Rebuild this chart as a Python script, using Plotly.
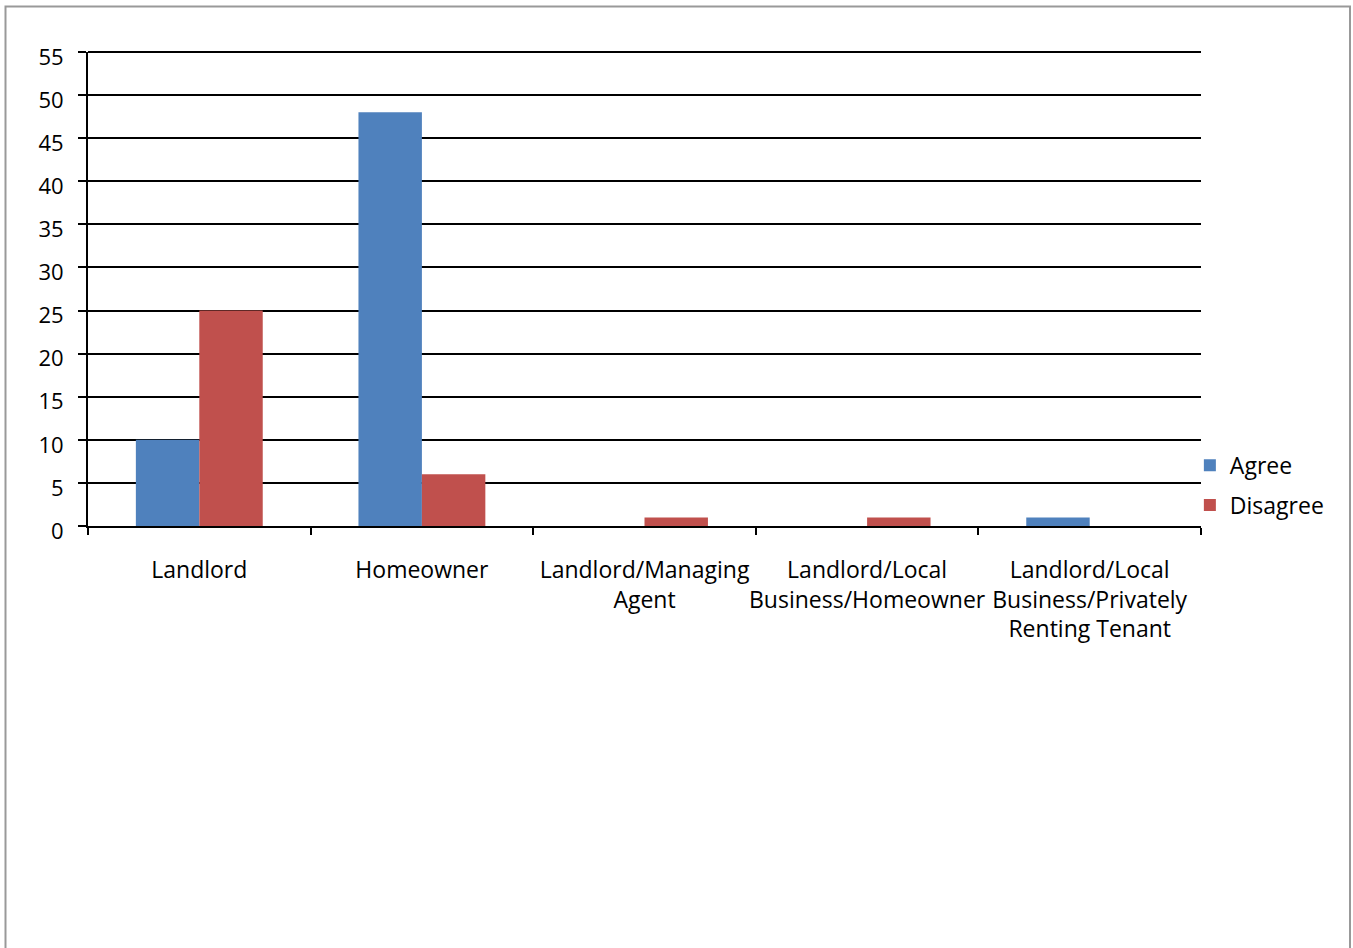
import plotly.graph_objects as go

categories = [
    "Landlord",
    "Homeowner",
    "Landlord/Managing<br>Agent",
    "Landlord/Local<br>Business/Homeowner",
    "Landlord/Local<br>Business/Privately<br>Renting Tenant",
]
agree = [10, 48, 0, 0, 1]
disagree = [25, 6, 1, 1, 0]
y_ticks = list(range(0, 56, 5))
y_max = 55

W, H = 1353, 948
L, R, T, B = 88, 1201, 52, 526

font_family = "'Open Sans', sans-serif"
fs = 22
fs_cat = 23

fig = go.Figure()
fig.add_trace(go.Bar(name="Agree", x=categories, y=agree,
                     marker=dict(color="#4F81BD", line=dict(width=0)),
                     legendgroup="a"))
fig.add_trace(go.Bar(name="Disagree", x=categories, y=disagree,
                     marker=dict(color="#C0504D", line=dict(width=0)),
                     legendgroup="d"))

pw, ph = R - L, B - T
# light grey frame around the whole chart
fig.add_shape(type="rect", xref="paper", yref="paper",
              x0=(5.5 - L) / pw, x1=(1350 - L) / pw,
              y0=(B - 1000) / ph, y1=(B - 6.5) / ph,
              line=dict(color="#999999", width=2), layer="below")
# gridline along the top edge of the plot (top of the value range)
fig.add_shape(type="line", xref="paper", yref="paper", x0=0, x1=1,
              y0=1, y1=1, line=dict(color="black", width=2))

fig.update_layout(
    width=W, height=H,
    margin=dict(l=L, r=W - R, t=T, b=H - B, pad=0),
    paper_bgcolor="white", plot_bgcolor="white",
    barmode="group", bargap=0.43, bargroupgap=0,
    font=dict(family=font_family, size=fs, color="black"),
    showlegend=True,
    legend=dict(x=0.990, y=0.086, xanchor="left", yanchor="middle",
                font=dict(size=fs_cat), tracegroupgap=7,
                bgcolor="rgba(0,0,0,0)"),
    xaxis=dict(type="category", tickson="boundaries", ticks="outside",
               ticklen=7, tickwidth=2, tickcolor="black", tickangle=0,
               showline=True, linecolor="black", linewidth=2,
               showgrid=False, tickfont=dict(size=fs_cat),
               ticklabelstandoff=22, fixedrange=True),
    yaxis=dict(range=[0, y_max], tickvals=y_ticks, ticks="outside",
               ticklen=8, tickwidth=2, tickcolor="black",
               showline=True, linecolor="black", linewidth=2,
               showgrid=True, gridcolor="black", gridwidth=2,
               zeroline=False, tickfont=dict(size=fs),
               ticklabelstandoff=10, ticklabelshift=5, fixedrange=True),
)

fig.write_html("out.html")
